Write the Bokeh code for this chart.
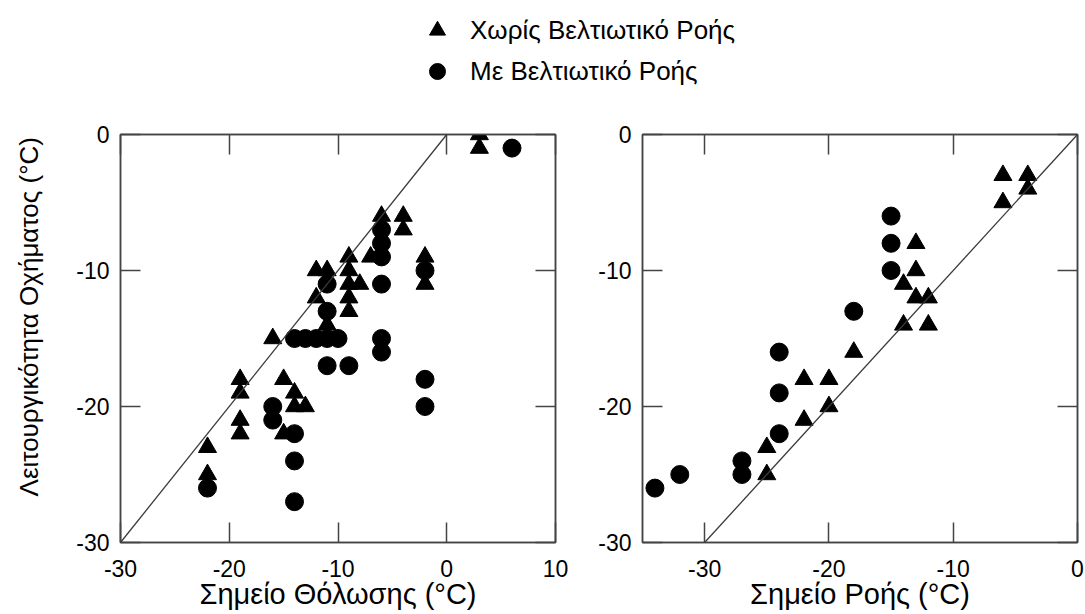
import math
from bokeh.plotting import figure
from bokeh.layouts import column, row
from bokeh.models import (Range1d, LinearAxis, FixedTicker, Slope, Legend,
                          LegendItem, CustomJSTickFormatter, Label)
from bokeh.embed import file_html
from bokeh.resources import INLINE

# ---------------- data ----------------
series_names = ["Χωρίς Βελτιωτικό Ροής", "Με Βελτιωτικό Ροής"]

# Left panel: cloud point (x) vs operability (y)
cloud_tri_x = [3, 3, -6, -4, -4, -7, -9, -9, -9, -9, -9, -8, -12, -11, -12, -11,
               -2, -2, -16, -19, -19, -19, -19, -15, -14, -14, -13, -15, -22, -22]
cloud_tri_y = [0, -1, -6, -6, -7, -9, -9, -10, -11, -12, -13, -11, -10, -10, -12, -14,
               -9, -11, -15, -18, -19, -21, -22, -18, -19, -20, -20, -22, -23, -25]
cloud_cir_x = [6, -6, -6, -6, -6, -11, -11, -14, -13, -12, -11, -10, -6, -6, -11, -9,
               -2, -2, -2, -16, -16, -14, -14, -14, -22]
cloud_cir_y = [-1, -7, -8, -9, -11, -11, -13, -15, -15, -15, -15, -15, -15, -16, -17, -17,
               -10, -18, -20, -20, -21, -22, -24, -27, -26]

# Right panel: pour point (x) vs operability (y)
pour_tri_x = [-6, -4, -4, -6, -13, -13, -14, -13, -12, -14, -12, -18, -22, -20, -20, -22, -25, -25]
pour_tri_y = [-3, -3, -4, -5, -8, -10, -11, -12, -12, -14, -14, -16, -18, -18, -20, -21, -23, -25]
pour_cir_x = [-15, -15, -15, -18, -24, -24, -24, -27, -27, -32, -34]
pour_cir_y = [-6, -8, -10, -13, -16, -19, -22, -24, -25, -25, -26]

x_ticks_left = [-30, -20, -10, 0, 10]
x_ticks_right = [-30, -20, -10, 0]
y_ticks = [-30, -20, -10, 0]

x_label_left = "Σημείο Θόλωσης (°C)"
x_label_right = "Σημείο Ροής (°C)"
y_label = "Λειτουργικότητα Οχήματος (°C)"

# ---------------- style ----------------
FONT = "Liberation Sans"
FRAME = "#444444"
MSIZE = 18
LEG_H = 104
PANEL_H = 614 - LEG_H
B_TOP = 134 - LEG_H
B_BOTTOM = 72
YT_W = 48


def style_axis(ax, ticks, show_labels=True):
    ax.ticker = FixedTicker(ticks=ticks)
    ax.major_tick_in = 20
    ax.major_tick_out = 0
    ax.minor_tick_in = 0
    ax.minor_tick_out = 0
    ax.major_tick_line_color = FRAME
    ax.major_tick_line_width = 1.5
    ax.axis_line_color = FRAME
    ax.axis_line_width = 1.5
    ax.major_label_text_font = FONT
    ax.major_label_text_font_size = "23px"
    ax.major_label_text_color = "black"
    if show_labels:
        ax.formatter = CustomJSTickFormatter(code="return tick.toString()")
    else:
        ax.formatter = CustomJSTickFormatter(code="return ''")
        ax.major_label_standoff = 0


def make_panel(width, xr, yr, xticks, tx, ty, cx, cy, xlabel, b_left, b_right):
    p = figure(width=width, height=PANEL_H, x_range=Range1d(*xr), y_range=Range1d(*yr),
               toolbar_location=None, output_backend="svg",
               min_border_left=b_left, min_border_right=b_right,
               min_border_top=B_TOP, min_border_bottom=B_BOTTOM)
    p.xgrid.visible = False
    p.ygrid.visible = False
    p.outline_line_color = FRAME
    p.outline_line_width = 1.5
    p.background_fill_color = "white"
    p.border_fill_color = "white"

    style_axis(p.xaxis[0], xticks)
    style_axis(p.yaxis[0], y_ticks)
    p.xaxis[0].major_label_standoff = 17
    p.yaxis[0].major_label_standoff = 11
    p.xaxis[0].axis_label = xlabel
    p.xaxis[0].axis_label_text_font = FONT
    p.xaxis[0].axis_label_text_font_size = "29px"
    p.xaxis[0].axis_label_text_font_style = "normal"
    p.xaxis[0].axis_label_text_color = "black"
    p.xaxis[0].axis_label_standoff = -2

    top = LinearAxis()
    style_axis(top, xticks, show_labels=False)
    p.add_layout(top, "above")
    right = LinearAxis()
    style_axis(right, y_ticks, show_labels=False)
    p.add_layout(right, "right")

    p.add_layout(Slope(gradient=1, y_intercept=0, line_color="#3a3a3a", line_width=1.3))

    p.scatter(tx, ty, marker="triangle", size=MSIZE, color="black")
    p.scatter(cx, cy, marker="circle", size=MSIZE, color="black")
    return p


left = make_panel(568 - YT_W, (-30, 10), (-30, 0), x_ticks_left,
                  cloud_tri_x, cloud_tri_y, cloud_cir_x, cloud_cir_y,
                  x_label_left, 120 - YT_W, 13)
right = make_panel(517, (-35, 0), (-30, 0), x_ticks_right,
                   pour_tri_x, pour_tri_y, pour_cir_x, pour_cir_y,
                   x_label_right, 74, 8)

# ---------------- y-axis title strip (shares the panels' vertical frame) ----------------
ytitle = figure(width=YT_W, height=PANEL_H, toolbar_location=None, output_backend="svg",
                x_range=Range1d(0, YT_W), y_range=left.y_range,
                x_axis_location=None, y_axis_location=None,
                min_border_left=0, min_border_right=0,
                min_border_top=B_TOP, min_border_bottom=B_BOTTOM)
ytitle.xgrid.visible = False
ytitle.ygrid.visible = False
ytitle.outline_line_color = None
ytitle.add_layout(Label(x=28, y=-13.4, text=y_label, angle=math.pi / 2,
                        text_align="center", text_baseline="middle",
                        text_font=FONT, text_font_size="26px", text_color="black"))

# ---------------- legend figure ----------------
leg = figure(width=1085, height=LEG_H, toolbar_location=None, output_backend="svg",
             x_range=Range1d(1000, 1001), y_range=Range1d(1000, 1001),
             x_axis_location=None, y_axis_location=None, min_border=0)
leg.xgrid.visible = False
leg.ygrid.visible = False
leg.outline_line_color = None
leg.background_fill_color = "white"
r_tri = leg.scatter(cloud_tri_x, cloud_tri_y, marker="triangle", size=MSIZE, color="black")
r_cir = leg.scatter(cloud_cir_x, cloud_cir_y, marker="circle", size=MSIZE, color="black")
legend = Legend(items=[LegendItem(label=series_names[0], renderers=[r_tri]),
                       LegendItem(label=series_names[1], renderers=[r_cir])],
                location=(417, 13), orientation="vertical",
                glyph_width=40, glyph_height=40, label_height=40, spacing=1,
                label_standoff=13, padding=0, margin=0,
                border_line_color=None, background_fill_alpha=0,
                label_text_font=FONT, label_text_font_size="26px",
                label_text_color="black")
leg.add_layout(legend, "center")

layout = column(leg, row(ytitle, left, right, spacing=0), spacing=0)

open("out.html", "w").write(file_html(layout, INLINE))
